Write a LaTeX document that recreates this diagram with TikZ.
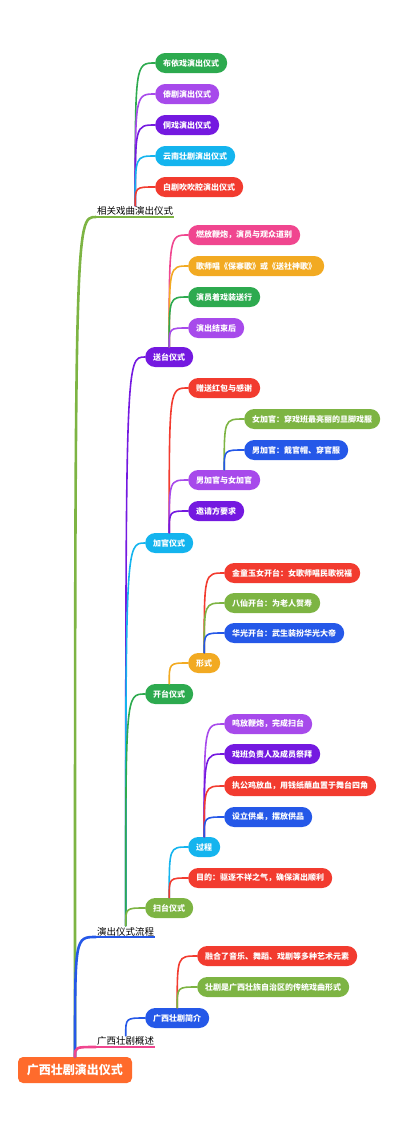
\documentclass[tikz,border=0pt]{standalone}
\usepackage{fontspec}
\newfontfamily\cjk{Noto Sans CJK SC}
\usetikzlibrary{positioning}

\definecolor{cgreen}{HTML}{2DAA4F}
\definecolor{clpurple}{HTML}{A74AEB}
\definecolor{cdpurple}{HTML}{7419E0}
\definecolor{ccyan}{HTML}{14B4EE}
\definecolor{cred}{HTML}{F23B2F}
\definecolor{cpink}{HTML}{F0468F}
\definecolor{cyellow}{HTML}{F2AA22}
\definecolor{colive}{HTML}{7DB443}
\definecolor{cblue}{HTML}{2558E8}
\definecolor{corange}{HTML}{FF6B2C}

\tikzset{
  leaf/.style={fill=#1,text=white,rounded corners=10pt,minimum height=20pt,
    inner xsep=8pt,inner ysep=0pt,anchor=west,font=\cjk\bfseries\fontsize{8}{9}\selectfont},
  topic/.style={inner sep=1pt,anchor=south west,font=\cjk\fontsize{9.5}{11}\selectfont},
  rootbox/.style={fill=corange,text=white,rounded corners=5pt,minimum height=26pt,
    inner xsep=9pt,inner ysep=0pt,font=\cjk\bfseries\fontsize{12}{14}\selectfont},
  link/.style={draw=#1,line width=1.6pt,line cap=round,
    to path={.. controls (\tikztostart |- \tikztotarget) .. (\tikztotarget) \tikztonodes}},
  trunk/.style={link=#1,line width=2.6pt},
}

\begin{document}
\begin{tikzpicture}[x=1pt,y=-1pt]
\useasboundingbox (0,0) rectangle (400,1136);

% root and main topics
\node[rootbox] (root) at (75,1070) {广西壮剧演出仪式};
\node[topic] (xg) at (96,217) {相关戏曲演出仪式};
\node[topic] (lc) at (96,937) {演出仪式流程};
\node[topic] (gs) at (96,1047) {广西壮剧概述};

% related operas
\node[leaf=cgreen] (bu) at (155,63) {布依戏演出仪式};
\node[leaf=clpurple] (dai) at (155,94) {傣剧演出仪式};
\node[leaf=cdpurple] (dong) at (155,125) {侗戏演出仪式};
\node[leaf=ccyan] (yn) at (155,156) {云南壮剧演出仪式};
\node[leaf=cred] (bai) at (155,187) {白剧吹吹腔演出仪式};

% ritual process
\node[leaf=cdpurple] (st) at (145,357) {送台仪式};
\node[leaf=ccyan] (jg) at (145,543) {加官仪式};
\node[leaf=cgreen] (kt) at (145,694) {开台仪式};
\node[leaf=colive] (sd) at (145,908) {扫台仪式};

\node[leaf=cpink] (st1) at (188,235) {燃放鞭炮，演员与观众道别};
\node[leaf=cyellow] (st2) at (188,266) {歌师唱《保寨歌》或《送社神歌》};
\node[leaf=cgreen] (st3) at (188,297) {演员着戏装送行};
\node[leaf=clpurple] (st4) at (188,328) {演出结束后};

\node[leaf=cred] (jg1) at (188,388) {赠送红包与感谢};
\node[leaf=clpurple] (jg2) at (188,480) {男加官与女加官};
\node[leaf=cdpurple] (jg3) at (188,511) {邀请方要求};
\node[leaf=colive] (jg21) at (244,419) {女加官：穿戏班最亮丽的旦脚戏服};
\node[leaf=cblue] (jg22) at (244,450) {男加官：戴官帽、穿官服};

\node[leaf=cyellow] (xs) at (188,663) {形式};
\node[leaf=cred] (xs1) at (224,573) {金童玉女开台：女歌师唱民歌祝福};
\node[leaf=colive] (xs2) at (224,603) {八仙开台：为老人贺寿};
\node[leaf=cblue] (xs3) at (224,633) {华光开台：武生装扮华光大帝};

\node[leaf=ccyan] (gc) at (188,847) {过程};
\node[leaf=cred] (md) at (188,878) {目的：驱逐不祥之气，确保演出顺利};
\node[leaf=clpurple] (gc1) at (224,724) {鸣放鞭炮，完成扫台};
\node[leaf=cdpurple] (gc2) at (224,754) {戏班负责人及成员祭拜};
\node[leaf=cred] (gc3) at (224,786) {执公鸡放血，用钱纸蘸血置于舞台四角};
\node[leaf=cblue] (gc4) at (224,817) {设立供桌，摆放供品};

% overview
\node[leaf=cblue] (jj) at (145,1018) {广西壮剧简介};
\node[leaf=cred] (jj1) at (197,956) {融合了音乐、舞蹈、戏剧等多种艺术元素};
\node[leaf=colive] (jj2) at (197,987) {壮剧是广西壮族自治区的传统戏曲形式};

% underlines
\draw[colive,line width=1.6pt] (xg.south west) -- (xg.south east);
\draw[cblue,line width=1.6pt] (lc.south west) -- (lc.south east);
\draw[cpink,line width=1.6pt] (gs.south west) -- (gs.south east);

% connectors
\draw[trunk=colive] (root.north) to (xg.south west);
\draw[trunk=cblue] (root.north) to (lc.south west);
\draw[trunk=cpink] (root.north) to (gs.south west);

\draw[link=cgreen] (xg.north) to (bu.west);
\draw[link=clpurple] (xg.north) to (dai.west);
\draw[link=cdpurple] (xg.north) to (dong.west);
\draw[link=ccyan] (xg.north) to (yn.west);
\draw[link=cred] (xg.north) to (bai.west);

\draw[link=cdpurple] (lc.north) to (st.west);
\draw[link=ccyan] (lc.north) to (jg.west);
\draw[link=cgreen] (lc.north) to (kt.west);
\draw[link=colive] (lc.north) to (sd.west);

\draw[link=cpink] (st.north) to (st1.west);
\draw[link=cyellow] (st.north) to (st2.west);
\draw[link=cgreen] (st.north) to (st3.west);
\draw[link=clpurple] (st.north) to (st4.west);

\draw[link=cred] (jg.north) to (jg1.west);
\draw[link=clpurple] (jg.north) to (jg2.west);
\draw[link=cdpurple] (jg.north) to (jg3.west);
\draw[link=colive] (jg2.north) to (jg21.west);
\draw[link=cblue] (jg2.north) to (jg22.west);

\draw[link=cyellow] (kt.north) to (xs.west);
\draw[link=cred] (xs.north) to (xs1.west);
\draw[link=colive] (xs.north) to (xs2.west);
\draw[link=cblue] (xs.north) to (xs3.west);

\draw[link=ccyan] (sd.north) to (gc.west);
\draw[link=cred] (sd.north) to (md.west);
\draw[link=clpurple] (gc.north) to (gc1.west);
\draw[link=cdpurple] (gc.north) to (gc2.west);
\draw[link=cred] (gc.north) to (gc3.west);
\draw[link=cblue] (gc.north) to (gc4.west);

\draw[link=cblue] (gs.north) to (jj.west);
\draw[link=cred] (jj.north) to (jj1.west);
\draw[link=colive] (jj.north) to (jj2.west);
\end{tikzpicture}
\end{document}
